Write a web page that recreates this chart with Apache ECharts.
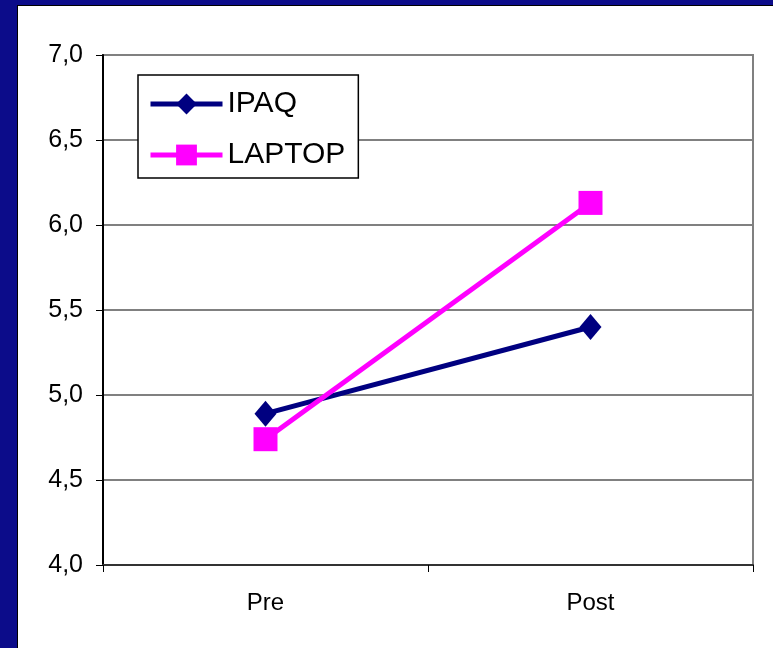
<!DOCTYPE html>
<html>
<head>
<meta charset="utf-8">
<script src="https://cdn.jsdelivr.net/npm/echarts@6/dist/echarts.min.js"></script>
<style>
  html, body { margin: 0; padding: 0; background: #fff; }
  #chart { width: 773px; height: 648px; }
</style>
</head>
<body>
<div id="chart"></div>
<script>
var categories = ['Pre', 'Post'];
var ipaq = [4.89, 5.40];
var laptop = [4.74, 6.13];

var font = 'Liberation Sans, Arial, sans-serif';
var navy = '#0c0c8a';

var option = {
  animation: false,
  backgroundColor: '#fff',
  graphic: [
    { type: 'rect', shape: { x: 0, y: 0, width: 18, height: 648 }, style: { fill: navy }, z: 100 },
    { type: 'rect', shape: { x: 0, y: 0, width: 773, height: 6 }, style: { fill: navy }, z: 100 },
    { type: 'rect', shape: { x: 17, y: 5, width: 756, height: 1 }, style: { fill: '#000' }, z: 101 },
    { type: 'rect', shape: { x: 17, y: 5, width: 1, height: 643 }, style: { fill: '#000' }, z: 101 }
  ],
  grid: {
    left: 103, top: 55, right: 20, bottom: 83,
    show: true,
    borderColor: '#808080',
    borderWidth: 2
  },
  legend: {
    orient: 'vertical',
    left: 138,
    top: 75,
    padding: [14, 13, 8, 10],
    itemGap: 21,
    itemWidth: 72,
    itemHeight: 26,
    borderColor: '#000',
    borderWidth: 1.5,
    backgroundColor: '#fff',
    lineStyle: { width: 5 },
    textStyle: { fontFamily: font, fontSize: 30, color: '#000', lineHeight: 30 },
    data: ['IPAQ', 'LAPTOP']
  },
  xAxis: {
    type: 'category',
    data: categories,
    axisLine: { lineStyle: { color: '#333', width: 2 } },
    axisTick: { show: true, length: 7, lineStyle: { color: '#000' } },
    axisLabel: { fontFamily: font, fontSize: 24, color: '#000', margin: 26 }
  },
  yAxis: {
    type: 'value',
    min: 4,
    max: 7,
    interval: 0.5,
    axisLine: { show: true, lineStyle: { color: '#000', width: 2 } },
    axisTick: { show: true, length: 7, lineStyle: { color: '#000' } },
    splitLine: { lineStyle: { color: '#808080', width: 2 } },
    axisLabel: {
      fontFamily: font, fontSize: 25, color: '#000', margin: 20,
      formatter: function (v) { return v.toFixed(1).replace('.', ','); }
    }
  },
  series: [
    {
      name: 'IPAQ',
      type: 'line',
      data: ipaq,
      symbol: 'diamond',
      symbolSize: [22, 26],
      lineStyle: { color: '#000080', width: 5 },
      itemStyle: { color: '#000080' },
      z: 3
    },
    {
      name: 'LAPTOP',
      type: 'line',
      data: laptop,
      symbol: 'rect',
      symbolSize: 24,
      lineStyle: { color: '#ff00ff', width: 5 },
      itemStyle: { color: '#ff00ff' },
      z: 4
    }
  ]
};

var chart = echarts.init(document.getElementById('chart'));
chart.setOption(option);
</script>
</body>
</html>
